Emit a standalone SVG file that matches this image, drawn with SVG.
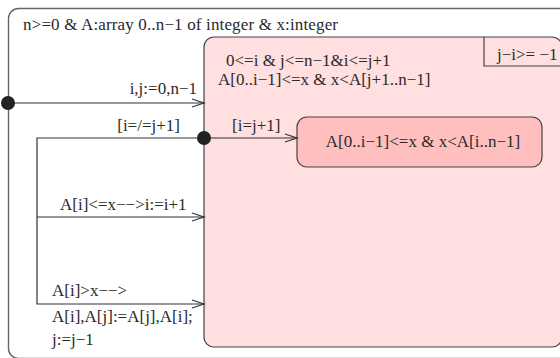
<svg xmlns="http://www.w3.org/2000/svg" width="560" height="358" viewBox="0 0 560 358">
<style>
text{font-family:"Liberation Serif","Times New Roman",serif;font-size:17px;fill:#2a2a2a}
.ln{fill:none;stroke:#333;stroke-width:1.2}
.dot{fill:#222}
</style>
<defs>
<marker id="ah" markerUnits="userSpaceOnUse" markerWidth="16" markerHeight="12" refX="13" refY="6" orient="auto" overflow="visible">
<path d="M1,2 L13,6 L1,10" fill="none" stroke="#333" stroke-width="1.2"/>
</marker>
</defs>
<g id="outer">
<rect x="8.5" y="8.5" width="600" height="350" rx="10" fill="#fff" stroke="#666" stroke-width="1.4"/>
<text x="23" y="30" textLength="315" lengthAdjust="spacing">n&gt;=0 &amp; A:array 0..n−1 of integer &amp; x:integer</text>
</g>
<g id="loop">
<rect x="204" y="37" width="358" height="310" rx="10" fill="#ffdfe0" stroke="#444" stroke-width="1.2"/>
<path d="M484,37 V66 H562" fill="none" stroke="#444" stroke-width="1.2"/>
<text x="497" y="60">j−i&gt;= −1</text>
<text x="226" y="66">0&lt;=i &amp; j&lt;=n−1&amp;i&lt;=j+1</text>
<text x="218" y="85">A[0..i−1]&lt;=x &amp; x&lt;A[j+1..n−1]</text>
</g>
<g id="post">
<rect x="297" y="117" width="245" height="50" rx="10" fill="#ffbfbf" stroke="#444" stroke-width="1.2"/>
<text x="423" y="147" text-anchor="middle">A[0..i−1]&lt;=x &amp; x&lt;A[i..n−1]</text>
</g>
<g id="connectors">
<path class="ln" d="M8,103 H204" marker-end="url(#ah)"/>
<path class="ln" d="M204,138 H37 V304 H204" marker-end="url(#ah)"/>
<path class="ln" d="M37,217 H204" marker-end="url(#ah)"/>
<path class="ln" d="M204,138 H297" marker-end="url(#ah)"/>
<circle class="dot" cx="8" cy="103" r="7"/>
<circle class="dot" cx="204" cy="138" r="7"/>
<text x="197" y="94" text-anchor="end">i,j:=0,n−1</text>
<text x="180" y="131" text-anchor="end">[i=/=j+1]</text>
<text x="232" y="131">[i=j+1]</text>
<text x="60" y="210">A[i]&lt;=x−−&gt;i:=i+1</text>
<text x="52" y="296">A[i]&gt;x−−&gt;</text>
<text x="52" y="322">A[i],A[j]:=A[j],A[i];</text>
<text x="52" y="345">j:=j−1</text>
</g>
</svg>
